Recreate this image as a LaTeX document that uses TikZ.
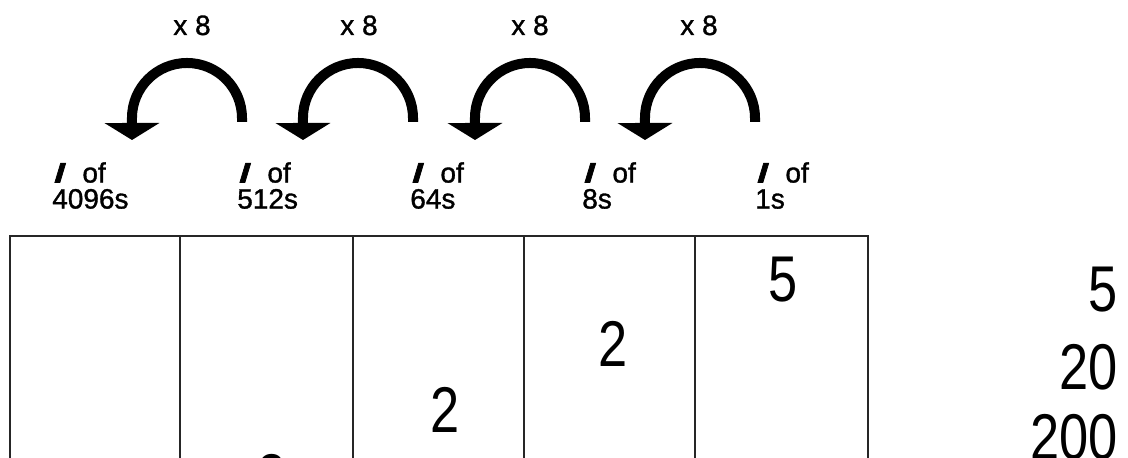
\documentclass[tikz,border=0pt]{standalone}
\usepackage{fontspec}
\setmainfont{Liberation Sans}
\newfontfamily\digitfont[FakeStretch=0.81]{Liberation Sans}
\newfontfamily\labelfont[FakeBold=1.2]{Liberation Sans}
\newfontfamily\tallyfont[FakeSlant=0.3,FakeBold=2]{Liberation Sans Bold}
\usetikzlibrary{arrows.meta, positioning}

\newcommand{\tally}{{\tallyfont\fontsize{26pt}{26pt}\selectfont ı}\hspace{0.5cm}}

\begin{document}
\begin{tikzpicture}[
      x=0.025cm, y=0.025cm,
      place/.style={anchor=north west, inner sep=0pt, align=left,
        font=\labelfont\fontsize{19.9pt}{18.5pt}\selectfont},
      times/.style={anchor=base, inner sep=0pt, font=\labelfont\fontsize{19.9pt}{19.9pt}\selectfont},
      digit/.style={anchor=base, inner sep=0pt, font=\digitfont\fontsize{46pt}{46pt}\selectfont},
      total/.style={digit, anchor=base east},
      grid/.style={line width=1.6pt, black!85},
      turn/.style={line width=0.25cm,
        -{Triangle[width=1.375cm, length=0.425cm, line width=0pt]}}
    ]
    \useasboundingbox (0,0) rectangle (1128,458);
    \clip (0,0) rectangle (1128,458);

    % column headings
    \node[place] (L4096) at (52,296) {\tally of\\4096s};
    \node[place] (L512) at (237,296) {\tally of\\512s};
    \node[place] (L64) at (410,296) {\tally of\\64s};
    \node[place] (L8) at (582,296) {\tally of\\8s};
    \node[place] (L1) at (755,296) {\tally of\\1s};

    % the place value chart
    \draw[grid] (10,-20) |- (868,222) -- (868,-20);
    \draw[grid] (180,-20) -- (180,222);
    \draw[grid] (353,-20) -- (353,222);
    \draw[grid] (524,-20) -- (524,222);
    \draw[grid] (695,-20) -- (695,222);

    % turning arrows
    \coordinate (s1) at (242,336); \coordinate (t1) at (132,318);
    \coordinate (s2) at (413,336); \coordinate (t2) at (303,318);
    \coordinate (s3) at (585,336); \coordinate (t3) at (475,318);
    \coordinate (s4) at (755,336); \coordinate (t4) at (645,318);
    \draw[turn] (s1) -- ++(0,4) arc[start angle=0, end angle=180, radius=1.375cm] -- (t1);
    \draw[turn] (s2) -- ++(0,4) arc[start angle=0, end angle=180, radius=1.375cm] -- (t2);
    \draw[turn] (s3) -- ++(0,4) arc[start angle=0, end angle=180, radius=1.375cm] -- (t3);
    \draw[turn] (s4) -- ++(0,4) arc[start angle=0, end angle=180, radius=1.375cm] -- (t4);
    \node[times] (m1) at (192,423) {x 8};
    \node[times] (m2) at (359,423) {x 8};
    \node[times] (m3) at (530,423) {x 8};
    \node[times] (m4) at (699,423) {x 8};

    % digits in the columns
    \node[digit] (d1) at (783,156) {5};
    \node[digit] (d8) at (613,91) {2};
    \node[digit] (d64) at (445,25) {2};
    \node[digit] (d512) at (272,-42) {3};

    % running values
    \node[total] (v1) at (1118,146) {5};
    \node[total] (v2) at (1118,68) {20};
    \node[total] (v3) at (1118,-2) {200};
\end{tikzpicture}
\end{document}
